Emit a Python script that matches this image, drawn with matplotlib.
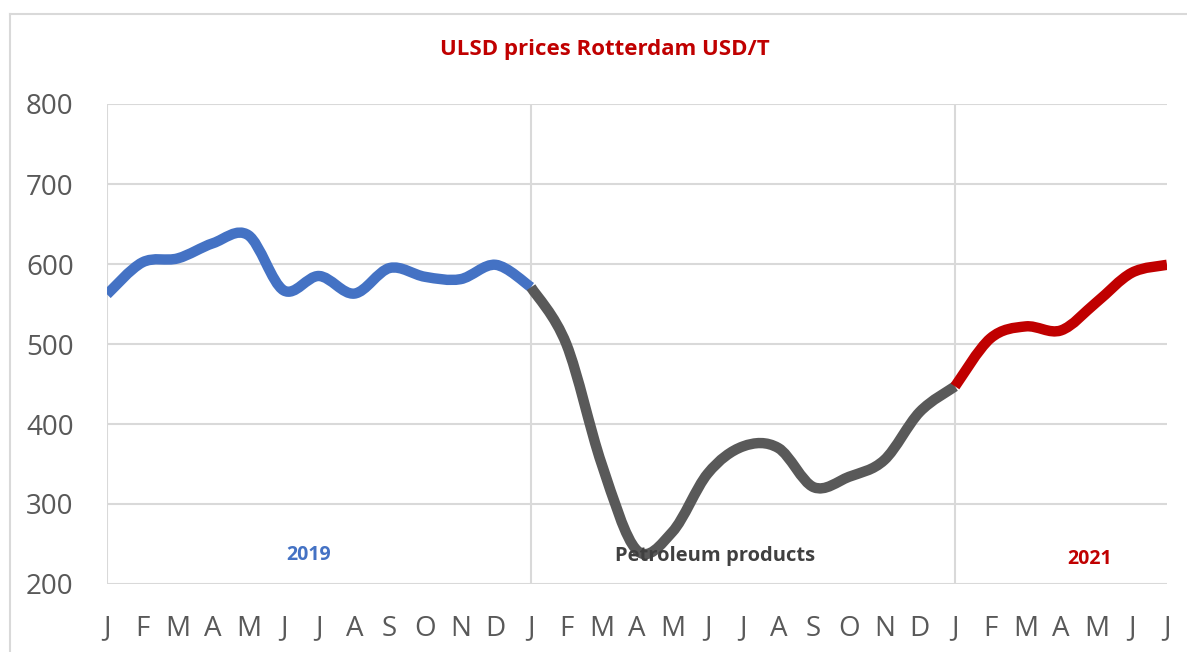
import numpy as np
import matplotlib
matplotlib.use("Agg")
import matplotlib.pyplot as plt
from matplotlib.path import Path
from matplotlib.patches import PathPatch
from matplotlib.lines import Line2D

plt.rcParams["font.family"] = ["Open Sans", "DejaVu Sans"]

# monthly ULSD prices, Rotterdam, USD/T (Jan 2019 .. Jul 2021)
month_labels = list("JFMAMJJASOND") * 2 + list("JFMAMJJ")
prices_2019 = [562, 602, 607, 626, 636, 567, 585, 563, 595, 584, 581, 599, 571]
prices_2020 = [571, 500, 350, 242, 265, 338, 372, 370, 321, 334, 355, 415, 447]
prices_2021 = [447, 507, 522, 517, 552, 589, 599]

x_2019 = np.arange(0, 13)
x_2020 = np.arange(12, 25)
x_2021 = np.arange(24, 31)

BLUE = "#4472C4"
GREY = "#595959"
RED = "#C00000"


def smooth_path(xs, ys):
    # Excel-style smoothed line: cubic Bezier through each point
    pts = np.column_stack([xs, ys]).astype(float)
    n = len(pts)
    verts = [pts[0]]
    codes = [Path.MOVETO]
    for i in range(n - 1):
        p0 = pts[i - 1] if i > 0 else pts[i]
        p1 = pts[i]
        p2 = pts[i + 1]
        p3 = pts[i + 2] if i + 2 < n else pts[i + 1]
        c1 = p1 + (p2 - p0) / 6.0
        c2 = p2 - (p3 - p1) / 6.0
        verts += [c1, c2, p2]
        codes += [Path.CURVE4] * 3
    return Path(verts, codes)


fig = plt.figure(figsize=(11.87, 6.52), dpi=100)
ax = fig.add_axes([107 / 1187, 1 - 584 / 652, 1060 / 1187, 480 / 652])

for xs, ys, col in [(x_2019, prices_2019, BLUE), (x_2020, prices_2020, GREY),
                    (x_2021, prices_2021, RED)]:
    patch = PathPatch(smooth_path(xs, ys), fill=False, edgecolor=col, lw=7.5,
                      capstyle="butt", joinstyle="round", zorder=3)
    ax.add_patch(patch)

ax.set_xlim(0, 30)
ax.set_ylim(200, 800)
ax.set_yticks(range(200, 801, 100))
ax.set_xticks(range(len(month_labels)))
ax.set_xticklabels(month_labels)
ax.tick_params(axis="both", length=0, labelsize=20, colors="#595959")
ax.tick_params(axis="y", pad=24)
ax.tick_params(axis="x", pad=22)

for v in range(200, 801, 100):
    ax.axhline(v, color="#D9D9D9", lw=1.5, zorder=1)
for v in [0, 12, 24]:
    ax.axvline(v, color="#D9D9D9", lw=1.5, zorder=1)
for s in ax.spines.values():
    s.set_visible(False)

ax.text(5.7, 236, "2019", color=BLUE, fontsize=14, fontweight="bold",
        ha="center", va="center")
ax.text(17.2, 235, "Petroleum products", color="#404040", fontsize=14.5,
        fontweight="bold", ha="center", va="center")
ax.text(27.8, 231, "2021", color=RED, fontsize=14, fontweight="bold",
        ha="center", va="center")

fig.text(605 / 1187, 1 - 50 / 652, "ULSD prices Rotterdam USD/T", color=RED,
         fontsize=16, fontweight="bold", ha="center", va="center")

# chart area border
fig.add_artist(Line2D([10 / 1187, 10 / 1187], [0, 1 - 14 / 652],
                      transform=fig.transFigure, color="#D9D9D9", lw=1.5))
fig.add_artist(Line2D([10 / 1187, 1], [1 - 14 / 652, 1 - 14 / 652],
                      transform=fig.transFigure, color="#D9D9D9", lw=1.5))

fig.savefig("out.png", dpi=100)
